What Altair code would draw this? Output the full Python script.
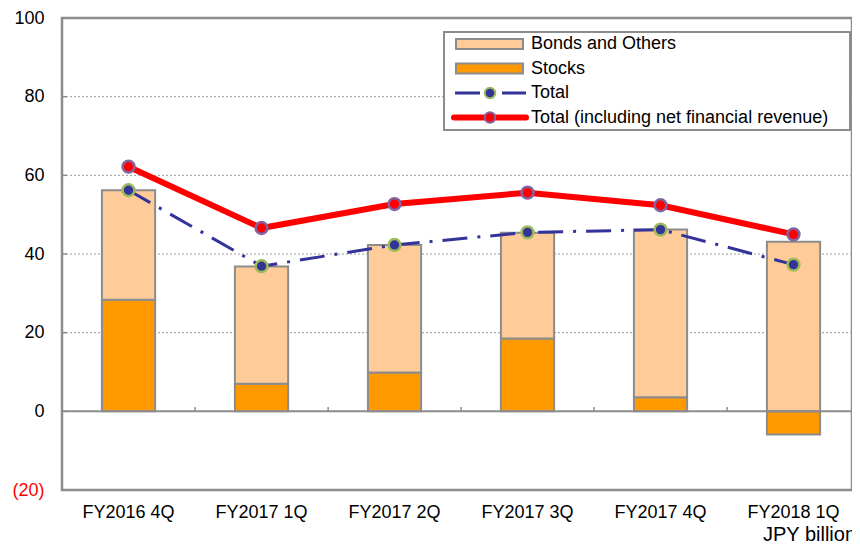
import altair as alt
import pandas as pd

categories = ["FY2016 4Q", "FY2017 1Q", "FY2017 2Q", "FY2017 3Q", "FY2017 4Q", "FY2018 1Q"]
stocks = [28.4, 7.0, 9.9, 18.5, 3.6, -5.9]
bonds = [27.8, 29.8, 32.4, 26.9, 42.6, 43.1]
total = [56.2, 36.9, 42.3, 45.5, 46.2, 37.3]
total_nfr = [62.2, 46.6, 52.7, 55.6, 52.4, 45.0]
y_ticks = [-20, 0, 20, 40, 60, 80, 100]
grid_values = [20, 40, 60, 80]
legend_labels = ["Bonds and Others", "Stocks", "Total", "Total (including net financial revenue)"]

FONT = "Liberation Sans"
FS = 18

bars_rows = []
for c, s, b in zip(categories, stocks, bonds):
    bars_rows.append({"category": c, "series": "Stocks", "value": s, "ord": 0})
    bars_rows.append({"category": c, "series": "Bonds and Others", "value": b, "ord": 1})
df_bars = pd.DataFrame(bars_rows)
df_total = pd.DataFrame({"category": categories, "value": total})
df_nfr = pd.DataFrame({"category": categories, "value": total_nfr})
df_grid = pd.DataFrame({"value": grid_values})
df_ticks = pd.DataFrame({"value": [v for v in y_ticks if -20 < v < 100]})
df_xticks = pd.DataFrame({"category": categories[:-1], "value": [0] * 5, "top": [1.1] * 5})

x_scale = alt.Scale(domain=categories, paddingInner=0.6, paddingOuter=0.27, align=0.556)
y_scale = alt.Scale(domain=[-20, 100], nice=False, zero=False)

x_axis = alt.Axis(title=None, labelAngle=0, ticks=False, domain=False, grid=False, orient="bottom",
                  labelFont=FONT, labelFontSize=FS, labelColor="#000000", labelPadding=13)
y_axis = alt.Axis(title=None, values=y_ticks, grid=False, domain=False, ticks=False, orient="left",
                  labelFont=FONT, labelFontSize=FS, labelPadding=18,
                  labelExpr="datum.value < 0 ? '(' + format(-datum.value, 'd') + ')' : format(datum.value, 'd')",
                  labelColor={"expr": "datum.value < 0 ? '#ff0000' : '#000000'"})

x_enc = alt.X("category:N", sort=categories, scale=x_scale, axis=x_axis)
y_enc = alt.Y("value:Q", scale=y_scale, axis=y_axis)
y_stack = alt.Y("value:Q", scale=y_scale, axis=y_axis, stack="zero")

grid = alt.Chart(df_grid).mark_rule(color="#9a9a9a", strokeWidth=1, strokeDash=[2, 2]).encode(y=y_enc)

bars = alt.Chart(df_bars).mark_bar(stroke="#8c8c8c", strokeWidth=2).encode(
    x=x_enc,
    y=y_stack,
    color=alt.Color("series:N", scale=alt.Scale(domain=["Stocks", "Bonds and Others"],
                                                 range=["#FF9900", "#FFCC99"]), legend=None),
    order=alt.Order("ord:Q"),
)

zero = alt.Chart(pd.DataFrame({"value": [0]})).mark_rule(color="#8c8c8c", strokeWidth=2).encode(y=y_enc)
yticks = alt.Chart(df_ticks).mark_rule(color="#8c8c8c", strokeWidth=1.5).encode(
    y=y_enc, x=alt.value(0), x2=alt.value(5))
xticks = alt.Chart(df_xticks).mark_rule(color="#8c8c8c", strokeWidth=1.5, xOffset=40).encode(
    x=alt.X("category:N", sort=categories, scale=x_scale, axis=x_axis, bandPosition=1),
    y=y_enc, y2=alt.Y2("top:Q"))

blue_line = alt.Chart(df_total).mark_line(color="#333399", strokeWidth=3,
                                          strokeDash=[25, 10, 3, 10]).encode(x=x_enc, y=y_enc)
blue_pts = alt.Chart(df_total).mark_point(shape="circle", filled=True, fill="#333399",
                                          stroke="#9BBB59", strokeWidth=2.5, size=140,
                                          opacity=1).encode(x=x_enc, y=y_enc)
red_line = alt.Chart(df_nfr).mark_line(color="#FF0000", strokeWidth=6).encode(x=x_enc, y=y_enc)
red_pts = alt.Chart(df_nfr).mark_point(shape="circle", filled=True, fill="#FF0000",
                                       stroke="#8064A2", strokeWidth=2.5, size=140,
                                       opacity=1).encode(x=x_enc, y=y_enc)

one = alt.Data(values=[{"a": 1}])

def lg_rect(x1, x2, y1, y2, **kw):
    return alt.Chart(one).mark_rect(**kw).encode(
        x=alt.value(x1), x2=alt.value(x2), y=alt.value(y1), y2=alt.value(y2))

def lg_rule(x1, x2, y, **kw):
    return alt.Chart(one).mark_rule(**kw).encode(x=alt.value(x1), x2=alt.value(x2), y=alt.value(y))

def lg_point(x, y, **kw):
    return alt.Chart(one).mark_point(**kw).encode(x=alt.value(x), y=alt.value(y))

def lg_text(x, y, t, size=FS, baseline="middle"):
    return alt.Chart(one).mark_text(text=t, align="left", baseline=baseline, font=FONT,
                                    fontSize=size, color="#000000").encode(
        x=alt.value(x), y=alt.value(y))

rows_y = [26, 50.5, 75, 99.5]
legend_layers = [
    lg_rect(382, 788, 14, 112, fill="#FFFFFF", stroke="#8c8c8c", strokeWidth=2),
    lg_rect(394, 461, rows_y[0] - 5, rows_y[0] + 5, fill="#FFCC99", stroke="#8c8c8c", strokeWidth=2),
    lg_rect(394, 461, rows_y[1] - 5, rows_y[1] + 5, fill="#FF9900", stroke="#8c8c8c", strokeWidth=2),
    lg_rule(393, 464, rows_y[2], color="#333399", strokeWidth=3, strokeDash=[25, 22]),
    lg_point(428, rows_y[2], shape="circle", filled=True, fill="#333399", stroke="#9BBB59",
             strokeWidth=2, size=110, opacity=1),
    lg_rule(392, 464, rows_y[3], color="#FF0000", strokeWidth=6, strokeCap="round"),
    lg_point(428, rows_y[3], shape="circle", filled=True, fill="#FF0000", stroke="#8064A2",
             strokeWidth=2, size=110, opacity=1),
]
for lab, yy in zip(legend_labels, rows_y):
    legend_layers.append(lg_text(469, yy, lab))

unit_text = lg_text(701, 522.5, "JPY billion", size=20, baseline="alphabetic")

chart = alt.layer(grid, bars, zero, yticks, xticks, blue_line, blue_pts, red_line, red_pts,
                  *legend_layers, unit_text).properties(
    width=790, height=472,
    padding={"left": 54, "top": 10, "right": 0, "bottom": 51},
    autosize=alt.AutoSizeParams(type="none"),
    background="#FFFFFF",
).configure_view(stroke="#8c8c8c", strokeWidth=2.5)

chart.save("out.html", embed_options={"renderer": "svg", "actions": False})
